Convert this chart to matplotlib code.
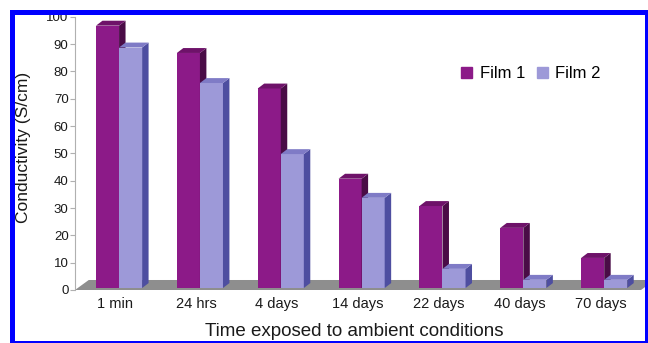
import numpy as np
import matplotlib
matplotlib.use('Agg')
from matplotlib import pyplot as plt
from matplotlib.patches import Polygon, Patch, Rectangle

# conductivity (S/cm) after exposure to air
times = ['1 min', '24 hrs', '4 days', '14 days', '22 days', '40 days', '70 days']
film1 = [96, 86, 73, 40, 30, 22, 11]
film2 = [88, 75, 49, 33, 7, 3, 3]

plt.rcParams['font.family'] = ['Liberation Sans', 'DejaVu Sans']

W, H = 648, 343
fig = plt.figure(figsize=(W / 100, H / 100), dpi=100)
fig.patch.set_facecolor('white')

# axes box in pixels: x from 75 to 641, y=0 at 290, y=100 at 16.7
ax = fig.add_axes([75 / W, 1 - 290 / H, 566 / W, 273.3 / H])
ax.set_xlim(0.5, 7.5)
ax.set_ylim(0, 100)

c1_front, c1_top, c1_side = '#8c1a88', '#6e1269', '#4a0c46'
c2_front, c2_top, c2_side = '#9d99d8', '#7f7bc6', '#4e4ea0'

# fake 3-D depth
dx, dy = 0.08, 1.8      # bar depth (x units, y units)
fdx, fdy = 0.17, 3.66   # floor depth
lift = 0.73             # bars stand slightly behind the floor front edge
bw = 0.285

# grey floor
floor = Polygon([(0.5, 0), (7.5, 0), (7.5 + fdx, fdy), (0.5 + fdx, fdy)],
                closed=True, facecolor='#8e8e8e', edgecolor='none',
                clip_on=False, zorder=1)
ax.add_patch(floor)


def box(x0, h, front, top, side):
    ax.bar(x0, h, width=bw, bottom=lift, align='edge', color=front,
           linewidth=0, zorder=2)
    yt = lift + h
    ax.add_patch(Polygon([(x0 + bw, lift), (x0 + bw + dx, lift + dy),
                          (x0 + bw + dx, yt + dy), (x0 + bw, yt)],
                         closed=True, facecolor=side, edgecolor='none', zorder=2))
    ax.add_patch(Polygon([(x0, yt), (x0 + dx, yt + dy),
                          (x0 + bw + dx, yt + dy), (x0 + bw, yt)],
                         closed=True, facecolor=top, edgecolor='none', zorder=2))


x = np.arange(1, len(times) + 1)
for xi, v1, v2 in zip(x, film1, film2):
    box(xi - 0.24, v1, c1_front, c1_top, c1_side)
    box(xi - 0.24 + bw, v2, c2_front, c2_top, c2_side)

# axes styling
for s in ['top', 'right', 'bottom']:
    ax.spines[s].set_visible(False)
ax.spines['left'].set_color('#b0b0b0')
ax.spines['left'].set_linewidth(0.8)
ax.set_yticks(np.arange(0, 101, 10))
ax.tick_params(axis='y', length=3.6, width=0.8, color='#b0b0b0', pad=1,
               labelsize=9.5, labelcolor='#1a1a1a')
ax.set_xticks(x)
ax.set_xticklabels(times)
ax.tick_params(axis='x', length=0, pad=5, labelsize=10.5, labelcolor='#1a1a1a')
ax.patch.set_alpha(0)

fig.text(23.5 / W, 1 - 147 / H, 'Conductivity (S/cm)', rotation=90,
         ha='center', va='center', fontsize=12.5, color='#1a1a1a')
fig.text(354 / W, 1 - 336 / H, 'Time exposed to ambient conditions',
         ha='center', va='baseline', fontsize=13.5, color='#1a1a1a')

ax.legend(handles=[Patch(color=c1_front, label='Film 1'),
                   Patch(color=c2_front, label='Film 2')],
          loc='center', bbox_to_anchor=(531 / W, 1 - 74 / H),
          bbox_transform=fig.transFigure, ncol=2, frameon=False, fontsize=12,
          handlelength=0.65, handleheight=0.65, handletextpad=0.45,
          columnspacing=0.7, borderpad=0)

# blue frame
def frame(x0, y0, x1, y1):
    fig.add_artist(Rectangle((x0 / W, 1 - y1 / H), (x1 - x0) / W, (y1 - y0) / H,
                             transform=fig.transFigure, facecolor='#0000ff',
                             edgecolor='none', zorder=10))

frame(10, 10, W, 15)
frame(10, 10, 15, H)
frame(10, 340.5, W, H)
frame(645, 10, W, H)

fig.savefig('out.png', dpi=100)
